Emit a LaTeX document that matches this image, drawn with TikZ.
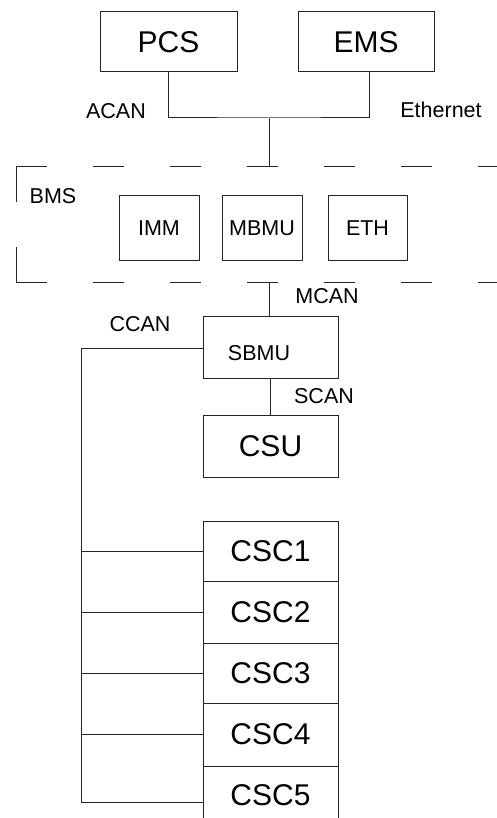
\documentclass[tikz,border=0pt]{standalone}
\usepackage{fontspec}
\setmainfont{Liberation Sans}
\usetikzlibrary{calc}
\begin{document}
\begin{tikzpicture}[x=1pt,y=-1pt,
  line width=1pt,
  conn/.style={draw=black!85, line width=1pt},
  box/.style={draw=black!85, line width=1pt, inner sep=0pt, text=black},
  big/.style={font=\fontsize{30}{34}\selectfont},
  small/.style={font=\fontsize{21.5}{24}\selectfont},
  lbl/.style={inner sep=0pt, text=black, font=\fontsize{21.5}{24}\selectfont},
  bmsdash/.style={draw=black!85, line width=1pt, dash pattern=on 31pt off 46pt}]
\useasboundingbox (0,0) rectangle (497,818);
% top boxes
\node[box,big,minimum width=137pt,minimum height=60pt] (pcs) at (168.5,42) {PCS};
\node[box,big,minimum width=136pt,minimum height=60pt] (ems) at (366,42) {EMS};
\coordinate (j) at (269,118);
\coordinate (emsl) at ($(ems.south)+(3,0)$);
\draw[conn] (pcs.south) |- (j) -| (emsl);
\node[lbl] (acan) at (116,111) {ACAN};
\node[lbl] (ethernet) at (441,110) {Ethernet};
% BMS dashed frame
\coordinate (bmsT) at (269,167);
\coordinate (bmsB) at (269,282);
\draw[bmsdash] (16,167) -- (510,167);
\draw[bmsdash] (16,282) -- (510,282);
\draw[draw=black!85, line width=1pt, dash pattern=on 35pt off 45pt] (16,167) -- (16,282);
\draw[conn] (j) -- (bmsT);
\node[lbl] (bms) at (53,196) {BMS};
\node[box,small,minimum width=80pt,minimum height=64pt] (imm) at (159,228) {IMM};
\node[box,small,minimum width=80pt,minimum height=64pt] (mbmu) at (262,228) {MBMU};
\node[box,small,minimum width=79pt,minimum height=64pt] (eth) at (367.5,228) {ETH};
% SBMU
\node[box,minimum width=135pt,minimum height=62pt] (sbmu) at (270.5,347) {};
\node[lbl] (sbmutext) at (259,353) {SBMU};
\draw[conn] (bmsB) -- (bmsB |- sbmu.north);
\node[lbl] (mcan) at (327,296) {MCAN};
\node[lbl] (ccan) at (140,324) {CCAN};
% CSU
\node[box,big,minimum width=135pt,minimum height=62pt] (csu) at (270.5,446) {CSU};
\draw[conn] (sbmu.south) -- (csu.north);
\node[lbl] (scan) at (324,396) {SCAN};
% CSC stack
\node[box,big,minimum width=135pt,minimum height=60pt] (csc1) at (270.5,551) {CSC1};
\node[box,big,minimum width=135pt,minimum height=62pt] (csc2) at (270.5,612) {CSC2};
\node[box,big,minimum width=135pt,minimum height=60pt] (csc3) at (270.5,673) {CSC3};
\node[box,big,minimum width=135pt,minimum height=63pt] (csc4) at (270.5,734.5) {CSC4};
\node[box,minimum width=135pt,minimum height=61pt] (csc5) at (270.5,796.5) {};
\node[lbl,big] (csc5text) at (270.5,795) {CSC5};
% CCAN bus
\coordinate (busTop) at (81,348);
\coordinate (busEnd) at (81,802);
\draw[conn] (sbmu.west |- busTop) -- (busTop) -- (busEnd) -- (busEnd -| csc5.west);
\draw[conn] (busTop |- csc1.west) -- (csc1.west);
\draw[conn] (busTop |- csc2.west) -- (csc2.west);
\draw[conn] (busTop |- csc3.west) -- (csc3.west);
\draw[conn] (busTop |- csc4.west) -- (csc4.west);
\end{tikzpicture}
\end{document}
